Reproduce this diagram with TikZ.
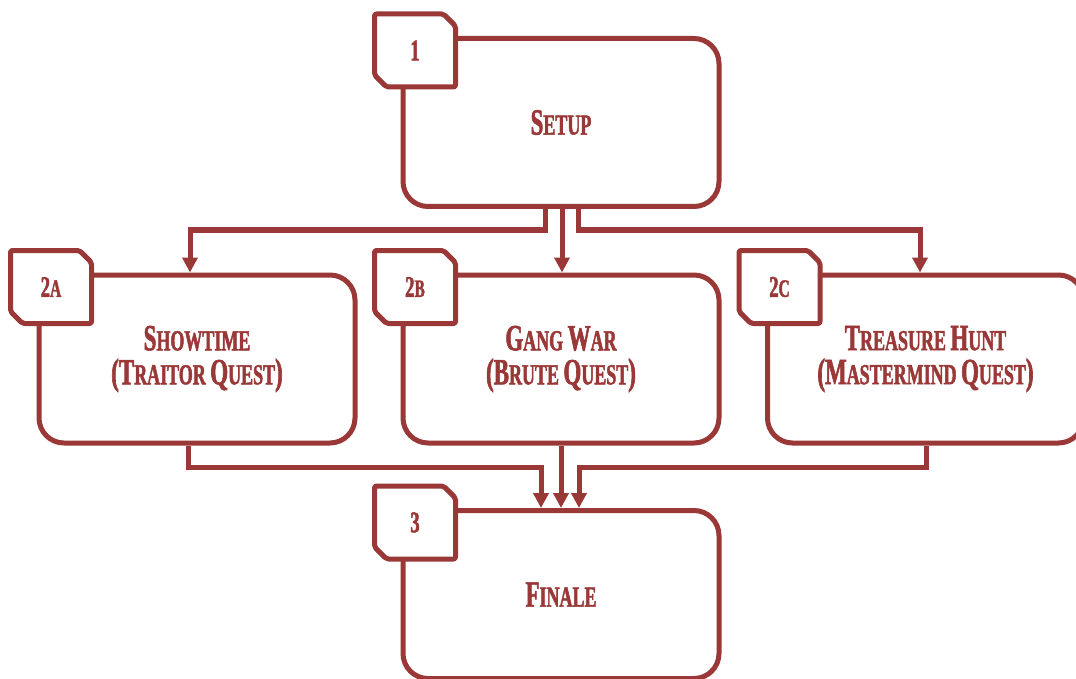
\documentclass[tikz,border=0pt]{standalone}
\usepackage{fontspec}
\usetikzlibrary{arrows.meta,calc}
\newfontfamily\hdfont[FakeStretch=0.62,FakeBold=1.6]{Liberation Serif}
\definecolor{qred}{RGB}{154,56,56}
\newcommand\BC[1]{{\fontsize{37}{34}\selectfont #1}}
\newcommand\TN[1]{{\fontsize{30}{30}\selectfont #1}}
\tikzset{
  box/.style={draw=qred, line width=5pt, rounded corners=25pt, fill=white,
    minimum width=316pt, minimum height=168pt, inner sep=0pt,
    text=qred, align=center, font=\hdfont\bfseries\fontsize{29}{34}\selectfont},
  tagst/.style={draw=qred, line width=5pt, fill=white, rounded corners=2pt, line join=round},
  tagtext/.style={text=qred, inner sep=0pt, font=\hdfont\bfseries\fontsize{25}{26}\selectfont},
  arr/.style={draw=qred, line width=5pt, -{Triangle[width=15pt,length=15pt]}},
}
\newcommand\tagbox[3]{%
  \draw[tagst] ($(#1.north west)+(-26,-22)$) -- ++(69,0) -- ++(12,12) -- ++(0,61)
     -- ++(-69,0) -- ++(-12,-12) -- cycle;
  \node[tagtext] (#2) at ($(#1.north west)+(14.5,14.5)$) {#3};}
\begin{document}
\begin{tikzpicture}[x=1pt,y=-1pt]
\useasboundingbox (0,0) rectangle (1076,679);
\clip (0,0) rectangle (1076,679);
\fill[white] (0,0) rectangle (1076,679);

\coordinate (p1) at (545,230);
\coordinate (p2) at (562,230);
\coordinate (p3) at (578,230);
\coordinate (qa) at (190,230);
\coordinate (qc) at (920,230);
\coordinate (ra) at (188,467);
\coordinate (rc) at (926,467);
\coordinate (f1) at (541,467);
\coordinate (f2) at (561,467);
\coordinate (f3) at (579,467);

\node[box] (setup) at (561,122.5) {\BC{S}ETUP};
\node[box] (a) at (197,359) {\BC{S}HOWTIME\\\BC{(T}RAITOR \BC{Q}UEST\BC{)}};
\node[box] (b) at (561,359) {\BC{G}ANG \BC{W}AR\\\BC{(B}RUTE \BC{Q}UEST\BC{)}};
\node[box] (c) at (925.5,359) {\BC{T}REASURE \BC{H}UNT\\\BC{(M}ASTERMIND \BC{Q}UEST\BC{)}};
\node[box] (fin) at (561,594.5) {\BC{F}INALE};

\draw[arr] (setup.south -| p1) -- (p1) -- (qa) -- (a.north -| qa);
\draw[arr] (setup.south -| p2) -- (b.north -| p2);
\draw[arr] (setup.south -| p3) -- (p3) -- (qc) -- (c.north -| qc);

\draw[arr] (a.south -| ra) -- (ra) -- (f1) -- (fin.north -| f1);
\draw[arr] (b.south -| f2) -- (fin.north -| f2);
\draw[arr] (c.south -| rc) -- (rc) -- (f3) -- (fin.north -| f3);

\tagbox{setup}{t1}{\TN{1}}
\tagbox{a}{t2a}{\TN{2}A}
\tagbox{b}{t2b}{\TN{2}B}
\tagbox{c}{t2c}{\TN{2}C}
\tagbox{fin}{t3}{\TN{3}}
\end{tikzpicture}
\end{document}
